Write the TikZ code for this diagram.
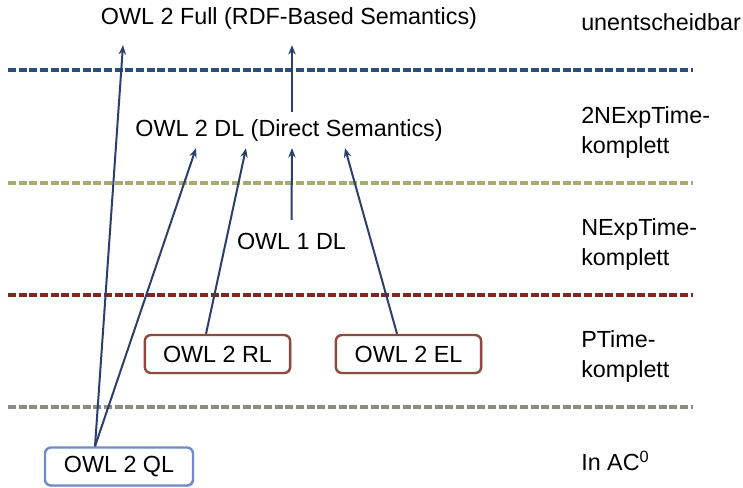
\documentclass[tikz,border=0pt]{standalone}
\usepackage{fontspec}
\setmainfont{Liberation Sans}
\usetikzlibrary{arrows.meta,shadows}

\definecolor{arrowblue}{RGB}{43,63,107}
\definecolor{lineblue}{RGB}{46,77,127}
\definecolor{lineolive}{RGB}{167,173,110}
\definecolor{linered}{RGB}{123,42,30}
\definecolor{linegray}{RGB}{140,140,128}
\definecolor{boxbrown}{RGB}{140,75,60}
\definecolor{boxblue}{RGB}{110,140,200}

\tikzset{
  sep/.style={line width=2.4pt, dash pattern=on 6pt off 2pt},
  txt/.style={font=\fontsize{17.5}{22.5}\selectfont, inner xsep=0.75pt},
  profil/.style={draw=#1, line width=1.8pt, rounded corners=4.5pt, fill=white,
    minimum width=109pt, minimum height=28.5pt, txt,
    drop shadow={shadow xshift=1pt, shadow yshift=-1pt, opacity=0.25}},
  klasse/.style={txt, anchor=west, align=left},
  arr/.style={-{Stealth[length=7pt,width=5.5pt]}, draw=arrowblue, line width=1.5pt}
}

\begin{document}
\begin{tikzpicture}[x=0.75pt,y=-0.75pt]
\useasboundingbox (0,0) rectangle (743,487);
\clip (0,0) rectangle (743,487);

% separator lines between the complexity classes
\draw[sep, lineblue]  (8,70)  -- (693,70);
\draw[sep, lineolive] (8,183) -- (693,183);
\draw[sep, linered]   (8,295) -- (693,295);
\draw[sep, linegray]  (8,407) -- (693,407);

% languages
\node[txt, inner ysep=12pt] (full) at (289,18) {OWL 2 Full (RDF-Based Semantics)};
\node[txt, inner ysep=5.25pt] (dl) at (289,130) {OWL 2 DL (Direct Semantics)};
\node[txt, inner ysep=9.4pt] (owl1) at (291.5,241) {OWL 1 DL};
\node[profil=boxbrown] (rl) at (217.5,354) {OWL 2 RL};
\node[profil=boxbrown] (el) at (408.5,354) {OWL 2 EL};
\node[profil=boxblue, minimum width=111pt] (ql) at (119,466.5) {OWL 2 QL};

% complexity classes
\node[klasse] (undec) at (580,22) {unentscheidbar};
\node[klasse] (nnexp) at (580,132.5) {2NExpTime-\\komplett};
\node[klasse] (nexp) at (580,244) {NExpTime-\\komplett};
\node[klasse] (ptime) at (580,356) {PTime-\\komplett};
\node[klasse] (ac) at (580,461) {In AC\textsuperscript{0}};

% inclusions
\draw[arr] ([xshift=-18pt]ql.north) -- ([xshift=-124.5pt]full.south);
\draw[arr] ([xshift=-18pt]ql.north) -- ([xshift=-69.75pt]dl.south);
\draw[arr] ([xshift=-8.6pt]rl.north) -- ([xshift=-32.25pt]dl.south);
\draw[arr] (owl1.north) -- ([xshift=2.25pt]dl.south);
\draw[arr] ([xshift=-8.6pt]el.north) -- ([xshift=42pt]dl.south);
\draw[arr] ([xshift=2.25pt]dl.north) -- ([xshift=2.25pt]full.south);

\end{tikzpicture}
\end{document}
